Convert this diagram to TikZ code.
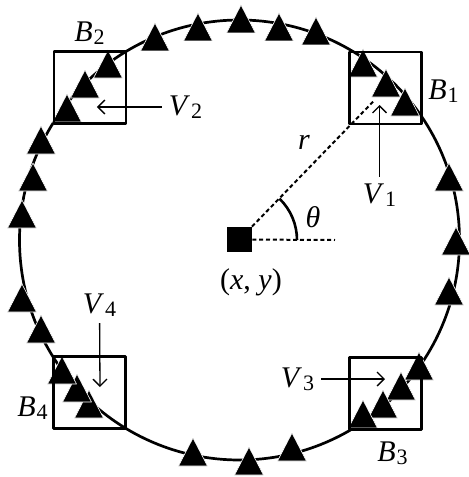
\documentclass[tikz,border=0pt]{standalone}
\usepackage{fontspec}
\setmainfont{Liberation Serif}
\usepackage{tikz}
\usetikzlibrary{arrows.meta}
\newcommand\lbl[2]{\textit{#1}\kern0.4pt\raisebox{-1.3pt}{\fontsize{11}{12}\selectfont #2}}
\tikzset{ring/.style={line width=1.35pt},
  sensor/.style={fill=black,draw=white,line width=0.3pt},
  boxsq/.style={draw,line width=1.1pt,minimum size=36pt,inner sep=0pt},
  dline/.style={line width=1pt,dash pattern=on 2pt off 1.4pt},
  varrow/.style={->,line width=0.65pt}}

\begin{document}
\begin{tikzpicture}[x=0.5pt,y=0.5pt,>={Straight Barb[length=3.5pt,width=7pt]},line join=round,font=\fontsize{15}{17}\selectfont]
\useasboundingbox (-239.5,-237) rectangle (229.5,240);
% --- ring and sensors
\draw[ring] (0,0) circle[radius=220];
\foreach \x/\y in {-84.5/203,-41.5/213,1.5/221,39.5/213,76.5/209,
  123.5/177,146.5/157,165.5/138,209.5/63,216.5/-1,209.5/-51,
  179.5/-126,161.5/-146,143.5/-164,123.5/-174,52.5/-207,9.5/-221,-46.5/-212,
  -150.5/-164,-162.5/-148,-177.5/-130,-198.5/-89,-217.5/-58,-217.5/26,
  -206.5/63,-198.5/100,-172.5/132,-154.5/156,-131.5/176}
  \fill[sensor] (\x,\y) ++(-14.5,-14) -- ++(29,0) -- ++(-14.5,28) -- cycle;
% --- boxes
\node[boxsq] (b1) at (146,152) {};
\node[boxsq] (b2) at (-149.5,152.5) {};
\node[boxsq] (b3) at (146,-153.5) {};
\node[boxsq] (b4) at (-150,-152.5) {};
\node (l1) at (204,149) {\lbl{B}{1}};
\node (l2) at (-150,207) {\lbl{B}{2}};
\node (l3) at (153,-213) {\lbl{B}{3}};
\node (l4) at (-207,-168) {\lbl{B}{4}};
% --- centre, radius and angle
\node[fill=black,minimum size=12.5pt,inner sep=0pt] (ctr) at (0,0.5) {};
\coordinate (rend) at (46:195);
\coordinate (hend) at (95.5,0);
\draw[dline] (ctr) -- (rend);
\draw[dline] (ctr) -- (hend);
\draw[line width=1.3pt] (57.5,0) arc[start angle=0,end angle=46,radius=57.5];
\node (rl) at (64.5,98) {\textit{r}};
\node (th) at (73.5,23) {\textit{θ}};
\node (xy) at (11.5,-42) {(\textit{x}, \textit{y})};
% --- arrows
\coordinate (h1) at (140,135);
\coordinate (h2) at (-142.5,133);
\coordinate (h3) at (145.5,-139);
\coordinate (h4) at (-139.5,-147);
\node (v1) at (140,45) {\lbl{V}{1}};
\node (v2) at (-54,133) {\lbl{V}{2}};
\node (v3) at (58,-139) {\lbl{V}{3}};
\node (v4) at (-140,-65) {\lbl{V}{4}};
\draw[varrow] (v1) -- (h1);
\draw[varrow] (v2) -- (h2);
\draw[varrow] (v3) -- (h3);
\draw[varrow] (v4) -- (h4);
\end{tikzpicture}
\end{document}
